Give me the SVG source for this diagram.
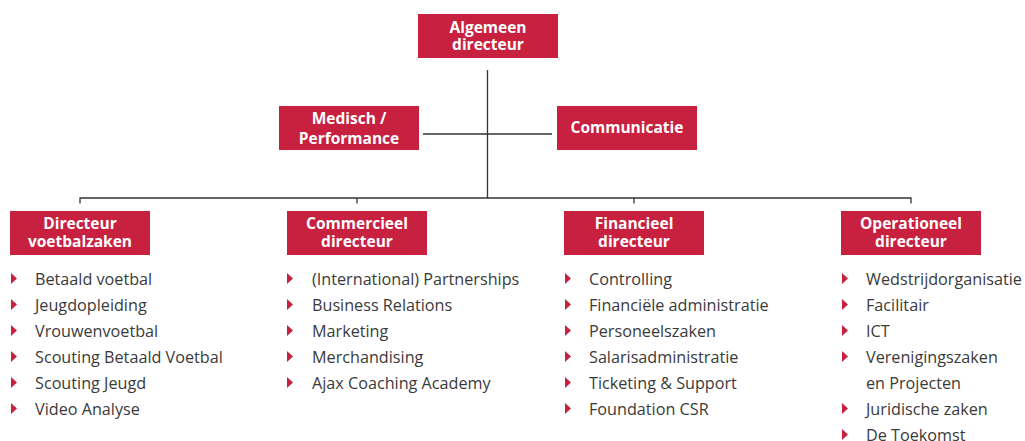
<svg xmlns="http://www.w3.org/2000/svg" width="1025" height="441" viewBox="0 0 1025 441">
<defs>
<style>
.box{fill:#C8203F}
.bt{fill:#fff;font-family:"Open Sans","Liberation Sans",sans-serif;font-weight:700;font-size:15.5px;text-anchor:middle}
.it{fill:#3a3a3a;font-family:"Open Sans","Liberation Sans",sans-serif;font-weight:400;font-size:16.2px}
.ln{stroke:#333;stroke-width:1.3;fill:none}
.bul{fill:#C8203F}
</style>
<polygon id="tri" points="0,0 6,5.5 0,11"/>
</defs>
<g id="connectors">
<line class="ln" x1="487.5" y1="70" x2="487.5" y2="198"/>
<line class="ln" x1="423" y1="134" x2="552" y2="134"/>
<polyline class="ln" points="80,203.5 80,198 911,198 911,203.5"/>
<line class="ln" x1="357" y1="198" x2="357" y2="203.5"/>
<line class="ln" x1="634" y1="198" x2="634" y2="203.5"/>
</g>
<g id="algemeen">
<rect class="box" x="418" y="14" width="140" height="44"/>
<text class="bt" x="488" y="33">Algemeen</text>
<text class="bt" x="488" y="50">directeur</text>
</g>
<g id="medisch">
<rect class="box" x="279" y="106" width="140" height="44"/>
<text class="bt" x="349" y="124">Medisch /</text>
<text class="bt" x="349" y="144">Performance</text>
</g>
<g id="communicatie">
<rect class="box" x="557" y="106" width="140" height="44"/>
<text class="bt" x="627" y="133">Communicatie</text>
</g>
<g id="voetbalzaken">
<rect class="box" x="10" y="211" width="140" height="44"/>
<text class="bt" x="80" y="229">Directeur</text>
<text class="bt" x="80" y="247">voetbalzaken</text>
<g class="bul">
<use href="#tri" x="11" y="273"/><use href="#tri" x="11" y="299"/><use href="#tri" x="11" y="325"/><use href="#tri" x="11" y="351"/><use href="#tri" x="11" y="377"/><use href="#tri" x="11" y="403"/>
</g>
<text class="it" x="35" y="285">Betaald voetbal</text>
<text class="it" x="35" y="311">Jeugdopleiding</text>
<text class="it" x="35" y="337">Vrouwenvoetbal</text>
<text class="it" x="35" y="363">Scouting Betaald Voetbal</text>
<text class="it" x="35" y="389">Scouting Jeugd</text>
<text class="it" x="35" y="415">Video Analyse</text>
</g>
<g id="commercieel">
<rect class="box" x="287" y="211" width="140" height="44"/>
<text class="bt" x="357" y="229">Commercieel</text>
<text class="bt" x="357" y="247">directeur</text>
<g class="bul">
<use href="#tri" x="287" y="273"/><use href="#tri" x="287" y="299"/><use href="#tri" x="287" y="325"/><use href="#tri" x="287" y="351"/><use href="#tri" x="287" y="377"/>
</g>
<text class="it" x="312" y="285">(International) Partnerships</text>
<text class="it" x="312" y="311">Business Relations</text>
<text class="it" x="312" y="337">Marketing</text>
<text class="it" x="312" y="363">Merchandising</text>
<text class="it" x="312" y="389">Ajax Coaching Academy</text>
</g>
<g id="financieel">
<rect class="box" x="564" y="211" width="140" height="44"/>
<text class="bt" x="634" y="229">Financieel</text>
<text class="bt" x="634" y="247">directeur</text>
<g class="bul">
<use href="#tri" x="565" y="273"/><use href="#tri" x="565" y="299"/><use href="#tri" x="565" y="325"/><use href="#tri" x="565" y="351"/><use href="#tri" x="565" y="377"/><use href="#tri" x="565" y="403"/>
</g>
<text class="it" x="589" y="285">Controlling</text>
<text class="it" x="589" y="311">Financiële administratie</text>
<text class="it" x="589" y="337">Personeelszaken</text>
<text class="it" x="589" y="363">Salarisadministratie</text>
<text class="it" x="589" y="389">Ticketing &amp; Support</text>
<text class="it" x="589" y="415">Foundation CSR</text>
</g>
<g id="operationeel">
<rect class="box" x="841" y="211" width="140" height="44"/>
<text class="bt" x="911" y="229">Operationeel</text>
<text class="bt" x="911" y="247">directeur</text>
<g class="bul">
<use href="#tri" x="842" y="273"/><use href="#tri" x="842" y="299"/><use href="#tri" x="842" y="325"/><use href="#tri" x="842" y="351"/><use href="#tri" x="842" y="403"/><use href="#tri" x="842" y="429"/>
</g>
<text class="it" x="866" y="285">Wedstrijdorganisatie</text>
<text class="it" x="866" y="311">Facilitair</text>
<text class="it" x="866" y="337">ICT</text>
<text class="it" x="866" y="363">Verenigingszaken</text>
<text class="it" x="866" y="389">en Projecten</text>
<text class="it" x="866" y="415">Juridische zaken</text>
<text class="it" x="866" y="441">De Toekomst</text>
</g>
</svg>
